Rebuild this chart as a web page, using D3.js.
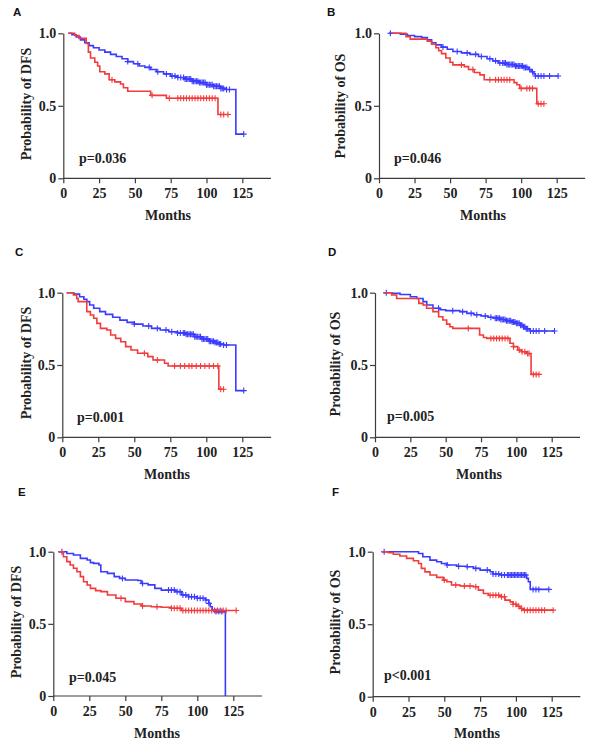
<!DOCTYPE html>
<html>
<head>
<meta charset="utf-8">
<script src="https://cdn.jsdelivr.net/npm/d3@7"></script>
<style>
  body { margin: 0; background: #fff; }
  svg { display: block; }
  .axis path, .axis line { stroke: #3c3c3c; stroke-width: 1.2px; }
  .axis text { font-family: "Liberation Serif", "Times New Roman", serif; font-weight: bold; font-size: 14px; fill: #222; }
  .title { font-family: "Liberation Serif", "Times New Roman", serif; font-weight: bold; font-size: 14px; fill: #222; }
  .letter { font-family: "Liberation Sans", Arial, sans-serif; font-weight: bold; font-size: 11.5px; fill: #111; }
</style>
</head>
<body>
<div id="chart"></div>
<script>
// Panel texts
var letters = ["A", "B", "C", "D", "E", "F"];
var yTitles = ["Probability of DFS", "Probability of OS", "Probability of DFS",
               "Probability of OS", "Probability of DFS", "Probability of OS"];
var pTexts = ["p=0.036", "p=0.046", "p=0.001", "p=0.005", "p=0.045", "p<0.001"];
var xTicks = [0, 25, 50, 75, 100, 125];
var yTicks = [0, 0.5, 1.0];

// Kaplan-Meier steps [month, survival] and censor months.
var blueA = [[3.5,1],[6,0.99],[9,0.975],[12,0.955],[15,0.935],[18,0.915],[21,0.9],[25,0.885],[29,0.87],[33,0.855],[37,0.84],[41,0.825],[45,0.805],[49,0.79],[53,0.775],[57,0.765],[61,0.75],[65,0.735],[70,0.72],[75,0.705],[80,0.695],[85,0.685],[90,0.67],[95,0.66],[100,0.645],[105,0.635],[110,0.62],[113,0.612],[120.5,0.305]];
var blueAcens = [45,52,60,66,72,76,78,80,82,84,85,86,87,88,89,90,91,92,93,94,95,96,97,98,99,100,101,102,103,104,105,106,107,108,109,110,111,112,114,116,126];
var redA = [[3.5,1],[8,0.985],[11,0.965],[16,0.93],[17.5,0.87],[19,0.83],[22,0.8],[24,0.775],[25.5,0.735],[29,0.72],[32,0.68],[36,0.665],[40,0.65],[42,0.625],[45,0.6],[61,0.572],[72,0.552],[108,0.44]];
var redAcens = [34,62,74,80,82,84,86,88,90,92,94,96,98,100,102,104,106,110,112,115];

var blueB = [[7,1],[15,0.993],[20,0.985],[25,0.977],[30,0.97],[34,0.955],[37,0.935],[40,0.92],[44,0.905],[48,0.89],[52,0.875],[58,0.865],[64,0.855],[70,0.84],[76,0.825],[80,0.81],[84,0.795],[90,0.785],[96,0.775],[102,0.765],[105,0.75],[107,0.735],[109,0.72],[110,0.706]];
var blueBcens = [8,45,55,62,68,72,78,82,85,87,88,89,90,91,92,93,94,95,96,97,98,99,100,101,102,103,104,106,108,110,112,114,116,120,126];
var redB = [[9,1],[19,0.977],[22,0.96],[34,0.945],[37,0.925],[40,0.9],[42,0.88],[44,0.86],[47,0.83],[50,0.8],[52,0.782],[60,0.77],[63,0.75],[67,0.73],[71,0.713],[74,0.68],[95,0.66],[97,0.645],[99,0.62],[111,0.514]];
var redBcens = [58,66,78,82,84,86,88,90,92,100,104,106,108,112,114,116];

var blueC = [[3,1],[8,0.99],[12,0.972],[15,0.955],[17,0.938],[19,0.915],[21.8,0.892],[26,0.869],[30,0.85],[35,0.83],[40,0.81],[45,0.795],[50,0.783],[56,0.77],[62,0.753],[68,0.742],[74,0.73],[80,0.722],[86,0.712],[92,0.695],[97,0.68],[102,0.665],[106,0.655],[109,0.645],[112,0.638],[120.5,0.323]];
var blueCcens = [50,60,66,72,76,80,82,84,85,86,87,88,89,90,91,92,93,94,95,96,97,98,99,100,101,102,103,104,105,106,107,108,109,110,112,114,126];
var redC = [[3,1],[7.7,0.984],[10,0.96],[11,0.938],[17,0.869],[19.5,0.846],[21.8,0.823],[24,0.788],[26.5,0.753],[31,0.742],[33.6,0.707],[37,0.684],[40.6,0.661],[44,0.627],[47.7,0.604],[52.3,0.581],[59.4,0.558],[63,0.535],[71,0.512],[73.5,0.493],[108.7,0.332]];
var redCcens = [57,66,78,82,85,88,90,93,96,99,102,105,108,110,112];

var blueD = [[6,1],[12,0.995],[17.7,0.988],[25,0.972],[29.5,0.96],[34,0.938],[36.6,0.915],[41,0.892],[46,0.882],[50,0.876],[60,0.869],[65,0.857],[70,0.848],[75,0.839],[80,0.83],[84,0.823],[89,0.815],[93,0.806],[97,0.798],[100,0.788],[103,0.775],[105,0.765],[107,0.75],[109.7,0.735]];
var blueDcens = [8,45,55,62,68,72,78,82,85,86,87,88,89,90,91,92,93,94,95,96,97,98,99,100,101,102,103,104,105,106,107,108,110,112,114,116,120,127];
var redD = [[6,1],[11.8,0.984],[15.3,0.96],[31,0.926],[34,0.915],[36.5,0.892],[41,0.869],[45,0.834],[48,0.811],[50.7,0.783],[53,0.765],[55,0.753],[74,0.707],[76.7,0.69],[79,0.684],[95.5,0.65],[97.9,0.627],[101,0.604],[103.8,0.592],[107,0.58],[110.4,0.435]];
var redDcens = [66,82,84,86,88,90,92,94,98,102,104,106,108,109,112,114,116];

var blueE = [[3.5,1],[9.4,0.988],[14,0.977],[18.8,0.954],[23.5,0.942],[25.8,0.924],[28,0.919],[31.7,0.908],[33,0.861],[37.6,0.85],[42.3,0.827],[46,0.815],[50,0.804],[58.7,0.8],[61,0.78],[65.8,0.77],[70.5,0.746],[75,0.734],[84.6,0.723],[89,0.7],[94,0.688],[100,0.677],[105.7,0.665],[108,0.642],[109,0.619],[110.4,0.596],[112.8,0.585],[119.5,0]];
var blueEcens = [6,48,62,80,82,84,86,88,90,92,94,96,98,100,102,104,106,108,113,115,117];
var redE = [[3.5,1],[7,0.965],[9.4,0.931],[11.7,0.908],[14,0.885],[16.4,0.861],[18.8,0.827],[21,0.792],[23.5,0.769],[25.8,0.746],[29.4,0.73],[33,0.723],[37.6,0.7],[43.5,0.677],[50,0.654],[56,0.638],[61,0.624],[68,0.618],[75,0.615],[82,0.608],[89,0.592]];
var redEcens = [47,62,72,82,84,86,88,90,92,94,96,98,100,102,104,106,108,110,112,114,116,118,120,127];

var blueF = [[6.3,1],[32,0.988],[35,0.965],[40,0.942],[44.7,0.931],[48,0.919],[51.7,0.908],[58.7,0.9],[65.6,0.896],[70.3,0.885],[75,0.873],[82,0.862],[84,0.846],[89,0.839],[107.5,0.816],[108.7,0.793],[110,0.74]];
var blueFcens = [8,52,60,66,72,80,84,86,88,90,92,94,95,96,97,98,99,100,101,102,103,104,105,106,107,112,114,116,123];
var redF = [[6.3,1],[11,0.993],[14.4,0.982],[19,0.97],[23.7,0.954],[28.4,0.938],[32,0.919],[34,0.885],[36.5,0.861],[40,0.839],[44.7,0.823],[49.3,0.804],[51.7,0.793],[55,0.77],[61,0.763],[70.3,0.758],[73.8,0.735],[77.3,0.712],[80.8,0.7],[89,0.689],[92.4,0.666],[96,0.654],[98,0.638],[100.5,0.624],[102.9,0.608],[105,0.597]];
var redFcens = [50,58,64,68,72,82,84,86,88,90,92,98,100,102,104,106,108,110,112,114,116,118,120,126];

var curves = [
  [[blueA, blueAcens], [redA, redAcens]],
  [[blueB, blueBcens], [redB, redBcens]],
  [[blueC, blueCcens], [redC, redCcens]],
  [[blueD, blueDcens], [redD, redDcens]],
  [[blueE, blueEcens], [redE, redEcens]],
  [[blueF, blueFcens], [redF, redFcens]]
];

var colors = ["#3b3bff", "#f23b3b"];

// Where each panel sits on the page: origin of x, x at 125 months, y at 1.0 and at 0.
var layout = [
  {x0: 63.3, x125: 242.3, yTop: 33.3, yBot: 178.3, lx: 13, ly: 16, tx: 31, ty: 104, px: 79, py: 163, mx: 168, my: 220},
  {x0: 379,  x125: 556.7, yTop: 33.3, yBot: 178.3, lx: 327, ly: 16, tx: 345, ty: 106, px: 394, py: 163, mx: 483, my: 220},
  {x0: 62.3, x125: 242.3, yTop: 292.7, yBot: 437.3, lx: 15, ly: 256, tx: 31, ty: 363, px: 77, py: 422, mx: 167, my: 479},
  {x0: 375,  x125: 551.7, yTop: 292.7, yBot: 437.3, lx: 328, ly: 256, tx: 340, ty: 364, px: 387, py: 421, mx: 479, my: 479},
  {x0: 53.3, x125: 233.3, yTop: 551.7, yBot: 696, lx: 18, ly: 496, tx: 21, ty: 622, px: 69, py: 682, mx: 157, my: 738},
  {x0: 372.7, x125: 551.7, yTop: 551.7, yBot: 696.7, lx: 332, ly: 496, tx: 340, ty: 622, px: 384, py: 680, mx: 477, my: 738}
];

var svg = d3.select("#chart").append("svg")
    .attr("width", 600)
    .attr("height", 754);

svg.append("rect").attr("width", 600).attr("height", 754).attr("fill", "#fff");

// survival value at time t for a step list
function survAt(steps, t) {
  var s = 1;
  for (var i = 0; i < steps.length; i++) {
    if (steps[i][0] <= t) s = steps[i][1];
  }
  return s;
}

layout.forEach(function(L, i) {
  var x = d3.scaleLinear().domain([0, 125]).range([L.x0, L.x125]);
  var y = d3.scaleLinear().domain([0, 1]).range([L.yBot, L.yTop]);
  var xEnd = x(145);

  // x axis
  var gx = svg.append("g").attr("class", "axis")
      .attr("transform", "translate(0," + L.yBot + ")")
      .call(d3.axisBottom(x).tickValues(xTicks).tickSize(5).tickSizeOuter(0).tickPadding(5));
  gx.select(".domain").attr("d", "M" + L.x0 + ",0H" + xEnd);

  // y axis
  svg.append("g").attr("class", "axis")
      .attr("transform", "translate(" + L.x0 + ",0)")
      .call(d3.axisLeft(y).tickValues(yTicks).tickSize(5).tickSizeOuter(0).tickPadding(2)
        .tickFormat(function(d) { return d === 0 ? "0" : d3.format(".1f")(d); }));

  svg.append("text").attr("class", "letter")
      .attr("x", L.lx).attr("y", L.ly).text(letters[i]);

  svg.append("text").attr("class", "title")
      .attr("transform", "translate(" + L.tx + "," + L.ty + ") rotate(-90)")
      .attr("text-anchor", "middle")
      .text(yTitles[i]);

  svg.append("text").attr("class", "title")
      .attr("x", L.mx).attr("y", L.my)
      .attr("text-anchor", "middle")
      .text("Months");

  svg.append("text").attr("class", "title")
      .attr("x", L.px).attr("y", L.py)
      .text(pTexts[i]);

  var line = d3.line()
      .x(function(d) { return x(d[0]); })
      .y(function(d) { return y(d[1]); })
      .curve(d3.curveStepAfter);

  curves[i].forEach(function(c, k) {
    var steps = c[0], cens = c[1];
    var last = steps[steps.length - 1];
    var tMax = Math.max(last[0], d3.max(cens));
    var pts = steps.concat([[tMax, last[1]]]);
    var col = colors[k];
    svg.append("path")
        .attr("d", line(pts))
        .attr("fill", "none")
        .attr("stroke", col)
        .attr("stroke-width", 1.6);

    svg.append("g").selectAll("path")
        .data(cens)
        .enter().append("path")
        .attr("d", function(t) {
          var cx = x(t), cy = y(survAt(steps, t));
          return "M" + (cx - 3) + "," + cy + "H" + (cx + 3) + "M" + cx + "," + (cy - 3) + "V" + (cy + 3);
        })
        .attr("stroke", col)
        .attr("stroke-width", 1.1);
  });
});
</script>
</body>
</html>
